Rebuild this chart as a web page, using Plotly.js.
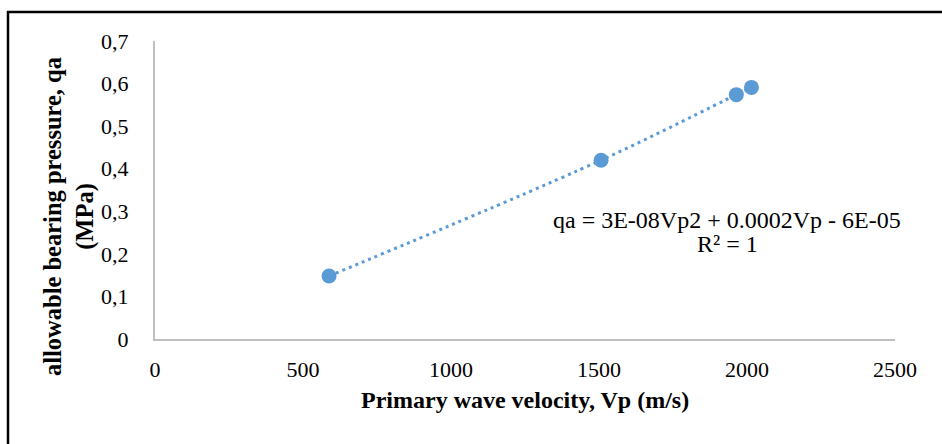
<!DOCTYPE html>
<html>
<head>
<meta charset="utf-8">
<script src="https://cdn.plot.ly/plotly-3.0.1.min.js"></script>
<style>
html,body{margin:0;padding:0;background:#fff;}
#chart{width:942px;height:444px;}
</style>
</head>
<body>
<div id="chart"></div>
<script>
// Data
var vp = [588, 1507, 1964, 2015];          // Primary wave velocity, Vp (m/s)
var qa = [0.148, 0.420, 0.574, 0.591];     // allowable bearing pressure, qa (MPa)
var xTickVals = [0, 500, 1000, 1500, 2000, 2500];
var yTickVals = [0, 0.1, 0.2, 0.3, 0.4, 0.5, 0.6, 0.7];
var yTickText = ["0", "0,1", "0,2", "0,3", "0,4", "0,5", "0,6", "0,7"];
var xTitle = "Primary wave velocity, Vp (m/s)";
var yTitleLines = ["allowable bearing pressure, qa", "(MPa)"];
var eqLines = ["qa = 3E-08Vp2 + 0.0002Vp - 6E-05", "R² = 1"];

var blue = "#5B9BD5";
var font = "Liberation Serif, Times New Roman, serif";

var traces = [
  {
    x: vp, y: qa, mode: "lines", type: "scatter",
    line: {color: blue, width: 3, dash: "3px,4px", shape: "spline"},
    hoverinfo: "skip", showlegend: false
  },
  {
    x: vp, y: qa, mode: "markers", type: "scatter",
    marker: {color: blue, size: 15},
    showlegend: false
  }
];

var L = 155, R = 47, T = 41, B = 105, W = 942, H = 444;
var pw = W - L - R, ph = H - T - B;
function px2x(p){ return (p - L) / pw; }
function px2y(p){ return (H - B - p) / ph; }

var layout = {
  width: W, height: H,
  margin: {l: L, r: R, t: T, b: B, pad: 0},
  paper_bgcolor: "#fff", plot_bgcolor: "#fff",
  font: {family: font, color: "#000", size: 22},
  showlegend: false,
  xaxis: {
    range: [0, 2500], tickvals: xTickVals, ticktext: xTickVals.map(String),
    showgrid: false, zeroline: false, showline: true,
    linecolor: "#BFBFBF", linewidth: 2, ticks: "",
    ticklabelstandoff: 10,
    tickfont: {family: font, size: 22, color: "#000"},
    title: {text: ""}
  },
  yaxis: {
    range: [0, 0.7], tickvals: yTickVals, ticktext: yTickText,
    showgrid: false, zeroline: false, showline: true,
    linecolor: "#BFBFBF", linewidth: 2, ticks: "",
    ticklabelstandoff: 20,
    tickfont: {family: font, size: 22, color: "#000"},
    title: {text: ""}
  },
  annotations: [
    {
      xref: "paper", yref: "paper", x: px2x(525), y: px2y(400),
      text: "<b>" + xTitle + "</b>", showarrow: false,
      font: {family: font, size: 24, color: "#000"},
      xanchor: "center", yanchor: "middle"
    },
    {
      xref: "paper", yref: "paper", x: px2x(69), y: px2y(217),
      text: "<b>" + yTitleLines.join("<br>") + "</b>", showarrow: false,
      textangle: -90,
      font: {family: font, size: 24.5, color: "#000"},
      xanchor: "center", yanchor: "middle"
    },
    {
      xref: "paper", yref: "paper", x: px2x(727), y: px2y(220),
      text: eqLines[0], showarrow: false,
      font: {family: font, size: 24, color: "#000"},
      xanchor: "center", yanchor: "middle"
    },
    {
      xref: "paper", yref: "paper", x: px2x(727), y: px2y(244),
      text: eqLines[1], showarrow: false,
      font: {family: font, size: 24, color: "#000"},
      xanchor: "center", yanchor: "middle"
    }
  ],
  shapes: [
    {type: "line", xref: "paper", yref: "paper",
     x0: px2x(7), x1: px2x(950), y0: px2y(12), y1: px2y(12),
     line: {color: "#000", width: 2.5}},
    {type: "line", xref: "paper", yref: "paper",
     x0: px2x(8), x1: px2x(8), y0: px2y(11), y1: px2y(450),
     line: {color: "#000", width: 2.5}}
  ]
};

Plotly.newPlot("chart", traces, layout, {displayModeBar: false, staticPlot: true});
</script>
</body>
</html>
